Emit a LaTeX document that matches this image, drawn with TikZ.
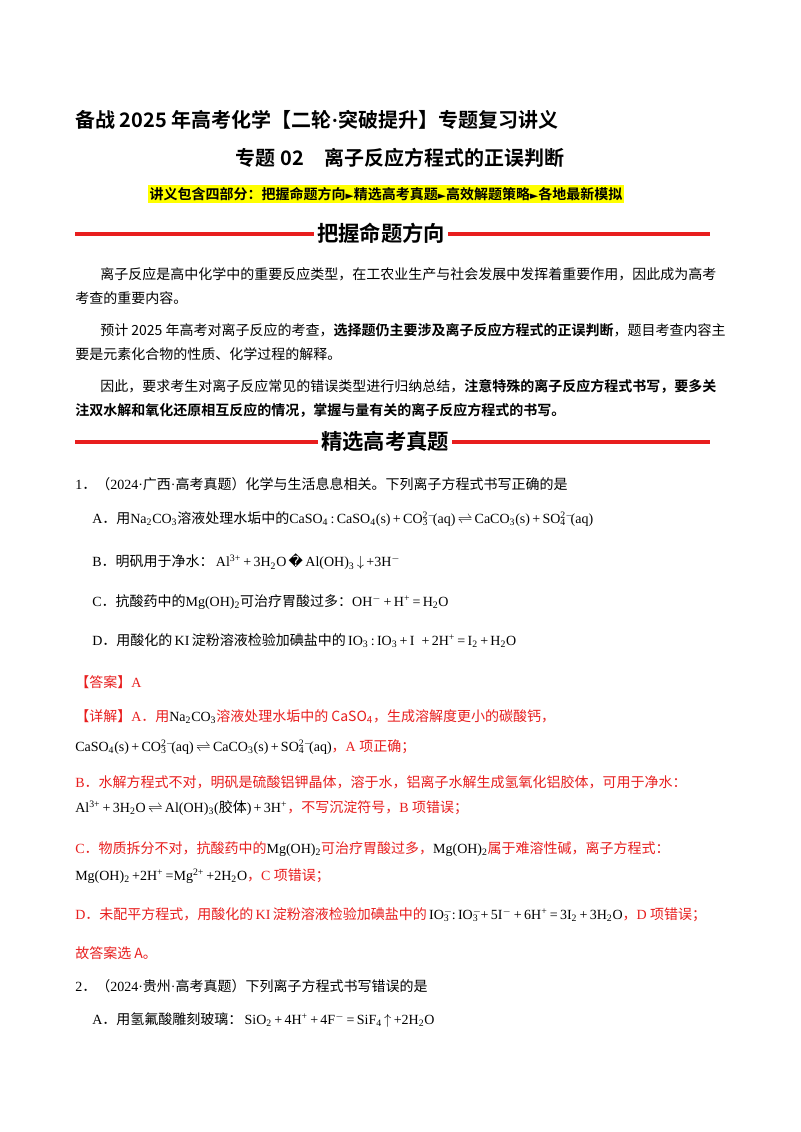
\documentclass[tikz,border=0pt]{standalone}
\usepackage{fontspec}
\setmainfont{Liberation Serif}
\newfontfamily\cjk{Noto Sans CJK SC}[BoldFont={Noto Sans CJK SC Bold}]
\newfontfamily\dejavu{DejaVu Sans}
\XeTeXinterchartokenstate=1
\newXeTeXintercharclass\cjkclass
\makeatletter
\count@="3000
\loop\ifnum\count@<"A000 \XeTeXcharclass\count@=\cjkclass \advance\count@ 1 \repeat
\count@="FF00
\loop\ifnum\count@<"FFF0 \XeTeXcharclass\count@=\cjkclass \advance\count@ 1 \repeat
\makeatother
\XeTeXinterchartoks 0 \cjkclass={\cjk}
\XeTeXinterchartoks 4095 \cjkclass={\cjk}
\XeTeXinterchartoks \cjkclass 0={\rmfamily}
\newcommand{\ch}[1]{{\rmfamily #1}}
\newcommand{\dn}[1]{\textsubscript{#1}}
\newcommand{\up}[1]{\textsuperscript{#1}}
\newcommand{\ud}[2]{\rlap{\textsuperscript{#1}}\textsubscript{#2}}
\newcommand{\tri}{{\dejavu\fontsize{8pt}{10pt}\selectfont ►}}
\definecolor{rd}{RGB}{232,30,30}
\definecolor{hl}{RGB}{255,255,0}
\tikzset{
  tx/.style={anchor=west,inner sep=0pt,font=\fontsize{10.5pt}{12pt}\selectfont},
  rt/.style={tx,text=rd},
  sec/.style={fill=white,inner sep=2pt,font=\fontsize{16pt}{18pt}\selectfont\bfseries},
  secline/.style={line width=2.6pt,draw=rd}
}
\begin{document}
\begin{tikzpicture}[x=0.75pt,y=-0.75pt]
\useasboundingbox[fill=white] (0,0) rectangle (800,1132);
\node[tx,font=\fontsize{15pt}{17pt}\selectfont\bfseries] (t1) at (75,120) {备战 2025 年高考化学【二轮·突破提升】专题复习讲义};
\node[inner sep=0pt,font=\fontsize{15pt}{17pt}\selectfont\bfseries] (t2) at (400,158) {专题 02\quad 离子反应方程式的正误判断};
\node[fill=hl,inner sep=1.5pt,font=\fontsize{10.5pt}{12pt}\selectfont\bfseries] (t3) at (386,194) {讲义包含四部分：把握命题方向\tri 精选高考真题\tri 高效解题策略\tri 各地最新模拟};
% banner 1
\coordinate (l1a) at (75,234); \coordinate (l1b) at (710,234);
\draw[secline] (l1a) -- (l1b);
\node[sec] (s1) at (381,233) {把握命题方向};
\node[tx] (p1a) at (100,274) {离子反应是高中化学中的重要反应类型，在工农业生产与社会发展中发挥着重要作用，因此成为高考};
\node[tx] (p1b) at (75,298) {考查的重要内容。};
\node[tx] (p2a) at (100,330) {预计 2025 年高考对离子反应的考查，\textbf{选择题仍主要涉及离子反应方程式的正误判断}，题目考查内容主};
\node[tx] (p2b) at (75,354) {要是元素化合物的性质、化学过程的解释。};
\node[tx] (p3a) at (100,386) {因此，要求考生对离子反应常见的错误类型进行归纳总结，\textbf{注意特殊的离子反应方程式书写，要多关}};
\node[tx] (p3b) at (75,410) {\textbf{注双水解和氧化还原相互反应的情况，掌握与量有关的离子反应方程式的书写。}};
% banner 2
\coordinate (l2a) at (75,442); \coordinate (l2b) at (710,442);
\draw[secline] (l2a) -- (l2b);
\node[sec] (s2) at (385,441) {精选高考真题};
\node[tx] (q1) at (75,484) {1．（2024·广西·高考真题）化学与生活息息相关。下列离子方程式书写正确的是};
\node[tx] (q1a) at (92,519) {A．用\ch{Na\dn{2}CO\dn{3}}溶液处理水垢中的\ch{CaSO\dn{4}\,:\,CaSO\dn{4}(s)\,+\,CO\ud{2$-$}{3}\,\,(aq)\,$\rightleftharpoons$\,CaCO\dn{3}(s)\,+\,SO\ud{2$-$}{4}\,\,(aq)}};
\node[tx] (q1b) at (92,562) {B．明矾用于净水：\ch{\,Al\up{3+}\,+\,3H\dn{2}O\,}{\dejavu �}\ch{\,Al(OH)\dn{3}\,$\downarrow$\,+3H\up{$-$}}};
\node[tx] (q1c) at (92,602) {C．抗酸药中的\ch{Mg(OH)\dn{2}}可治疗胃酸过多：\ch{OH\up{$-$}\,+\,H\up{+}\,=\,H\dn{2}O}};
\node[tx] (q1d) at (92,641) {D．用酸化的\ch{\,KI\,}淀粉溶液检验加碘盐中的\ch{\,IO\dn{3}\,:\,IO\dn{3}\,+\,I\ \ +\,2H\up{+}\,=\,I\dn{2}\,+\,H\dn{2}O}};
\node[rt] (ans) at (75,682) {【答案】A};
\node[rt] (x1) at (75,717) {【详解】A．用\ch{\color{black}Na\dn{2}CO\dn{3}}溶液处理水垢中的 CaSO\dn{4}，生成溶解度更小的碳酸钙，};
\node[tx] (x1e) at (75,747) {\ch{CaSO\dn{4}(s)\,+\,CO\ud{2$-$}{3}\,\,(aq)\,$\rightleftharpoons$\,CaCO\dn{3}(s)\,+\,SO\ud{2$-$}{4}\,\,(aq)}\textcolor{rd}{，A 项正确；}};
\node[rt] (x2) at (75,782) {B．水解方程式不对，明矾是硫酸铝钾晶体，溶于水，铝离子水解生成氢氧化铝胶体，可用于净水：};
\node[tx] (x2e) at (75,808) {\ch{Al\up{3+}\,+\,3H\dn{2}O\,$\rightleftharpoons$\,Al(OH)\dn{3}(}胶体\ch{)\,+\,3H\up{+}}\textcolor{rd}{，不写沉淀符号，B 项错误；}};
\node[rt] (x3) at (75,849) {C．物质拆分不对，抗酸药中的\ch{\color{black}Mg(OH)\dn{2}}可治疗胃酸过多，\ch{\color{black}Mg(OH)\dn{2}}属于难溶性碱，离子方程式：};
\node[tx] (x3e) at (75,876) {\ch{Mg(OH)\dn{2}\,+2H\up{+}\,=Mg\up{2+}\,+2H\dn{2}O}\textcolor{rd}{，C 项错误；}};
\node[rt] (x4) at (75,915) {D．未配平方程式，用酸化的\ch{\,KI\,}淀粉溶液检验加碘盐中的\ch{\color{black}\,IO\ud{$-$}{3}\,:\,IO\ud{$-$}{3}\,+\,5I\up{$-$}\,+\,6H\up{+}\,=\,3I\dn{2}\,+\,3H\dn{2}O}，D 项错误；};
\node[rt] (x5) at (75,953) {故答案选 A。};
\node[tx] (q2) at (75,986) {2．（2024·贵州·高考真题）下列离子方程式书写错误的是};
\node[tx] (q2a) at (92,1020) {A．用氢氟酸雕刻玻璃：\ch{\,SiO\dn{2}\,+\,4H\up{+}\,+\,4F\up{$-$}\,=\,SiF\dn{4}\,$\uparrow$\,+2H\dn{2}O}};
\end{tikzpicture}
\end{document}
